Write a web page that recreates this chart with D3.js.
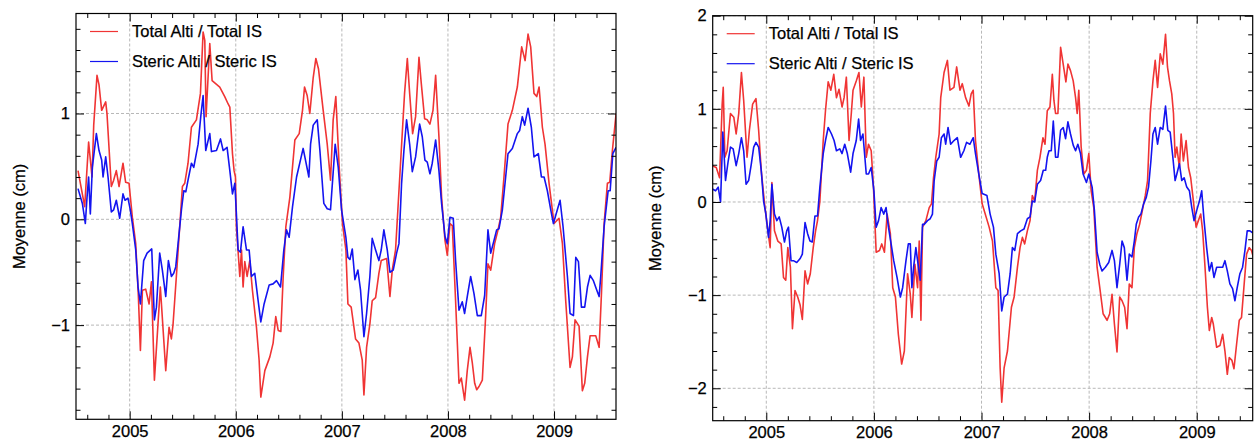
<!DOCTYPE html>
<html>
<head>
<meta charset="utf-8">
<script src="https://cdn.jsdelivr.net/npm/d3@7"></script>
<style>
  body { margin: 0; background: #fff; }
  svg { display: block; font-family: "Liberation Sans", Arial, Helvetica, sans-serif; }
  svg text { stroke: #000; stroke-width: 0.25px; }
</style>
</head>
<body>
<svg id="chart" width="1257" height="442"></svg>
<script>
// mean sea level anomaly (cm), [decimal year, value]
const leftTotal = [
  [2004.513,0.46],[2004.576,0.12],[2004.613,0.73],[2004.645,0.40],[2004.661,0.89],[2004.692,1.36],
  [2004.711,1.27],[2004.736,1.03],[2004.774,1.11],[2004.786,1.00],[2004.827,0.31],[2004.849,0.37],
  [2004.874,0.46],[2004.900,0.31],[2004.937,0.53],[2004.962,0.35],[2004.994,0.34],[2005.025,0.02],
  [2005.057,-0.23],[2005.082,-0.73],[2005.101,-1.24],[2005.120,-0.67],[2005.151,-0.66],[2005.183,-0.80],
  [2005.205,-0.59],[2005.233,-1.52],[2005.289,-0.64],[2005.340,-1.43],[2005.371,-1.02],[2005.393,-1.13],
  [2005.409,-0.99],[2005.440,-0.54],[2005.497,0.31],[2005.519,0.34],[2005.550,0.53],[2005.582,0.87],
  [2005.629,0.94],[2005.667,1.19],[2005.692,1.77],[2005.708,1.69],[2005.720,0.97],[2005.755,1.66],
  [2005.777,1.31],[2005.849,1.25],[2005.896,1.16],[2005.928,1.09],[2005.944,1.06],[2005.969,0.62],
  [2005.984,0.46],[2005.997,0.40],[2006.006,-0.07],[2006.038,-0.54],[2006.054,-0.29],[2006.069,-0.64],
  [2006.085,-0.40],[2006.107,-0.54],[2006.132,-0.39],[2006.157,-0.67],[2006.195,-1.02],[2006.220,-1.33],
  [2006.236,-1.68],[2006.274,-1.43],[2006.321,-1.30],[2006.352,-1.17],[2006.377,-0.92],[2006.400,-1.05],
  [2006.425,-1.06],[2006.447,-0.54],[2006.472,-0.07],[2006.510,0.21],[2006.557,0.75],[2006.598,0.81],
  [2006.629,1.03],[2006.648,1.25],[2006.673,1.17],[2006.698,1.00],[2006.730,1.34],[2006.755,1.52],
  [2006.780,1.42],[2006.824,1.03],[2006.862,0.71],[2006.893,0.37],[2006.918,0.94],[2006.943,1.16],
  [2006.975,0.49],[2007.006,-0.04],[2007.038,-0.29],[2007.057,-0.80],[2007.088,-0.83],[2007.129,-1.13],
  [2007.161,-1.17],[2007.192,-1.33],[2007.208,-1.66],[2007.233,-1.21],[2007.264,-0.99],[2007.286,-0.77],
  [2007.318,-0.74],[2007.349,-0.51],[2007.371,-0.39],[2007.422,-0.37],[2007.453,-0.73],[2007.475,-0.48],
  [2007.506,-0.29],[2007.528,0.09],[2007.560,0.65],[2007.591,1.19],[2007.617,1.52],[2007.639,1.19],
  [2007.667,0.81],[2007.695,0.97],[2007.727,1.53],[2007.749,1.28],[2007.780,0.95],[2007.805,0.94],
  [2007.830,0.90],[2007.859,1.03],[2007.884,1.36],[2007.915,0.78],[2007.940,0.21],[2007.972,-0.20],
  [2007.994,-0.34],[2008.019,-0.04],[2008.041,-0.06],[2008.072,-0.77],[2008.104,-1.55],[2008.126,-1.50],
  [2008.157,-1.71],[2008.182,-1.43],[2008.208,-1.21],[2008.230,-1.36],[2008.252,-1.55],[2008.271,-1.61],
  [2008.293,-1.58],[2008.324,-1.52],[2008.355,-0.92],[2008.377,-0.42],[2008.403,-0.48],[2008.440,-0.23],
  [2008.472,-0.10],[2008.497,0.02],[2008.528,0.40],[2008.566,0.90],[2008.607,1.03],[2008.654,1.25],
  [2008.695,1.63],[2008.727,1.50],[2008.755,1.75],[2008.780,1.63],[2008.811,1.19],[2008.837,1.16],
  [2008.859,1.25],[2008.890,0.87],[2008.915,0.71],[2008.953,0.34],[2009.000,-0.04],[2009.047,0.01],
  [2009.079,-0.23],[2009.110,-0.77],[2009.151,-1.40],[2009.173,-1.30],[2009.198,-0.95],[2009.236,-1.01],
  [2009.267,-1.62],[2009.289,-1.55],[2009.315,-1.30],[2009.340,-1.10],[2009.393,-1.10],[2009.425,-1.21],
  [2009.447,-0.70],[2009.472,-0.04],[2009.503,0.34],[2009.525,0.35],[2009.550,0.65],[2009.585,1.00]
];

const leftSteric = [
  [2004.513,0.29],[2004.554,0.15],[2004.582,-0.04],[2004.598,0.21],[2004.613,0.40],[2004.629,0.05],
  [2004.648,0.49],[2004.686,0.81],[2004.711,0.65],[2004.736,0.56],[2004.749,0.40],[2004.774,0.59],
  [2004.796,0.40],[2004.827,0.07],[2004.849,0.09],[2004.874,0.18],[2004.906,0.01],[2004.937,0.24],
  [2004.956,0.18],[2004.984,0.20],[2005.006,0.09],[2005.025,-0.04],[2005.057,-0.29],[2005.079,-0.64],
  [2005.101,-0.80],[2005.132,-0.39],[2005.164,-0.32],[2005.208,-0.28],[2005.233,-0.95],[2005.252,-0.83],
  [2005.283,-0.32],[2005.308,-0.48],[2005.340,-0.73],[2005.365,-0.39],[2005.393,-0.54],[2005.415,-0.51],
  [2005.434,-0.45],[2005.456,-0.23],[2005.488,0.09],[2005.510,0.27],[2005.529,0.26],[2005.550,0.37],
  [2005.582,0.53],[2005.604,0.49],[2005.645,0.71],[2005.670,0.97],[2005.692,1.17],[2005.717,0.65],
  [2005.755,0.81],[2005.771,0.64],[2005.818,0.65],[2005.856,0.76],[2005.881,0.65],[2005.918,0.68],
  [2005.944,0.46],[2005.969,0.24],[2005.991,0.34],[2006.006,0.05],[2006.022,-0.29],[2006.044,-0.31],
  [2006.069,-0.07],[2006.101,-0.29],[2006.126,-0.29],[2006.148,-0.54],[2006.179,-0.51],[2006.211,-0.77],
  [2006.236,-0.97],[2006.267,-0.80],[2006.315,-0.62],[2006.352,-0.61],[2006.384,-0.58],[2006.422,-0.64],
  [2006.453,-0.29],[2006.478,-0.10],[2006.503,-0.17],[2006.535,0.12],[2006.573,0.40],[2006.635,0.67],
  [2006.689,0.40],[2006.705,0.71],[2006.730,0.89],[2006.768,0.94],[2006.793,0.65],[2006.830,0.15],
  [2006.862,0.10],[2006.893,0.09],[2006.937,0.71],[2006.966,0.49],[2006.997,0.09],[2007.038,-0.17],
  [2007.057,-0.36],[2007.076,-0.38],[2007.098,-0.28],[2007.123,-0.57],[2007.151,-0.48],[2007.176,-0.67],
  [2007.208,-1.11],[2007.233,-0.89],[2007.264,-0.54],[2007.286,-0.18],[2007.318,-0.29],[2007.349,-0.39],
  [2007.371,-0.29],[2007.396,-0.10],[2007.428,-0.29],[2007.453,-0.50],[2007.484,-0.48],[2007.516,-0.32],
  [2007.538,-0.23],[2007.563,0.34],[2007.585,0.65],[2007.610,0.94],[2007.639,0.71],[2007.664,0.45],
  [2007.695,0.59],[2007.733,0.90],[2007.758,0.78],[2007.783,0.56],[2007.805,0.54],[2007.830,0.43],
  [2007.852,0.53],[2007.884,0.75],[2007.915,0.46],[2007.940,0.15],[2007.972,-0.16],[2007.994,-0.23],
  [2008.019,0.02],[2008.050,0.01],[2008.072,-0.39],[2008.104,-0.86],[2008.135,-0.78],[2008.157,-0.89],
  [2008.182,-0.73],[2008.214,-0.54],[2008.245,-0.70],[2008.277,-0.91],[2008.314,-0.91],[2008.346,-0.72],
  [2008.377,-0.10],[2008.403,-0.32],[2008.434,-0.20],[2008.459,-0.10],[2008.481,-0.09],[2008.513,0.09],
  [2008.544,0.40],[2008.566,0.62],[2008.607,0.67],[2008.654,0.81],[2008.676,0.84],[2008.701,0.97],
  [2008.723,0.89],[2008.755,1.05],[2008.786,0.87],[2008.811,0.59],[2008.852,0.62],[2008.881,0.40],
  [2008.906,0.40],[2008.937,0.27],[2008.969,0.09],[2008.994,-0.04],[2009.031,0.09],[2009.057,0.18],
  [2009.085,-0.07],[2009.126,-0.54],[2009.151,-0.89],[2009.183,-0.91],[2009.205,-0.36],[2009.230,-0.40],
  [2009.258,-0.83],[2009.289,-0.83],[2009.315,-0.64],[2009.340,-0.53],[2009.371,-0.58],[2009.403,-0.67],
  [2009.425,-0.73],[2009.440,-0.54],[2009.472,-0.07],[2009.510,0.27],[2009.529,0.27],[2009.554,0.62],
  [2009.585,0.68]
];

const rightTotal = [
  [2004.498,0.39],[2004.535,0.37],[2004.566,0.26],[2004.590,1.05],[2004.600,1.23],[2004.615,0.48],
  [2004.636,0.55],[2004.667,0.95],[2004.698,0.91],[2004.720,0.73],[2004.744,0.95],[2004.769,1.39],
  [2004.790,1.09],[2004.821,0.48],[2004.843,0.77],[2004.873,1.05],[2004.904,1.11],[2004.929,0.77],
  [2004.953,0.34],[2004.984,-0.02],[2005.015,-0.31],[2005.036,-0.49],[2005.052,0.21],[2005.076,-0.31],
  [2005.107,-0.42],[2005.138,-0.45],[2005.160,-0.81],[2005.181,-0.84],[2005.200,-0.49],[2005.224,-0.70],
  [2005.243,-1.36],[2005.267,-0.95],[2005.292,-1.02],[2005.313,-1.10],[2005.335,-1.26],[2005.360,-0.74],
  [2005.384,-0.88],[2005.409,-0.77],[2005.436,-0.49],[2005.458,-0.31],[2005.476,-0.20],[2005.498,0.01],
  [2005.529,0.66],[2005.550,0.98],[2005.575,1.29],[2005.600,1.20],[2005.627,1.37],[2005.652,1.12],
  [2005.676,1.21],[2005.704,1.02],[2005.723,1.12],[2005.744,1.34],[2005.769,0.66],[2005.790,0.95],
  [2005.806,1.20],[2005.836,1.30],[2005.861,1.39],[2005.883,1.02],[2005.907,1.34],[2005.929,0.48],
  [2005.950,0.62],[2005.975,0.55],[2005.996,0.16],[2006.021,-0.54],[2006.052,-0.52],[2006.073,-0.45],
  [2006.098,-0.54],[2006.123,-0.13],[2006.153,-0.34],[2006.175,-0.92],[2006.200,-1.02],[2006.227,-1.42],
  [2006.258,-1.74],[2006.283,-1.60],[2006.313,-0.77],[2006.338,-0.99],[2006.353,-1.24],[2006.381,-0.67],
  [2006.406,-0.92],[2006.421,-0.42],[2006.437,-1.27],[2006.452,-0.27],[2006.483,-0.20],[2006.514,-0.06],
  [2006.535,-0.02],[2006.554,0.26],[2006.575,0.48],[2006.606,0.73],[2006.621,1.12],[2006.652,1.39],
  [2006.683,1.52],[2006.707,1.20],[2006.744,1.23],[2006.769,1.45],[2006.800,1.20],[2006.821,1.27],
  [2006.852,1.12],[2006.883,1.03],[2006.904,1.16],[2006.923,1.20],[2006.944,0.66],[2006.975,0.30],
  [2007.006,-0.02],[2007.071,-0.27],[2007.102,-0.42],[2007.133,-0.92],[2007.154,-0.95],[2007.173,-1.78],
  [2007.188,-2.15],[2007.210,-1.78],[2007.241,-1.60],[2007.278,-1.13],[2007.303,-1.02],[2007.334,-0.70],
  [2007.358,-0.49],[2007.380,-0.38],[2007.401,-0.45],[2007.426,-0.31],[2007.451,-0.20],[2007.472,0.07],
  [2007.494,0.01],[2007.519,0.34],[2007.543,0.48],[2007.571,0.69],[2007.590,0.62],[2007.611,0.98],
  [2007.636,1.02],[2007.658,1.37],[2007.673,1.09],[2007.688,0.95],[2007.710,0.95],[2007.735,1.66],
  [2007.759,1.48],[2007.784,1.29],[2007.803,1.48],[2007.827,1.41],[2007.852,1.30],[2007.874,1.12],
  [2007.889,0.95],[2007.904,1.20],[2007.926,0.59],[2007.951,0.30],[2007.975,0.34],[2007.997,0.52],
  [2008.019,0.12],[2008.043,-0.06],[2008.074,-0.70],[2008.099,-0.92],[2008.130,-1.20],[2008.167,-1.27],
  [2008.191,-1.20],[2008.213,-0.99],[2008.235,-1.31],[2008.259,-1.61],[2008.284,-1.02],[2008.306,-1.06],
  [2008.330,-1.13],[2008.352,-1.36],[2008.373,-0.88],[2008.398,-0.92],[2008.420,-0.49],[2008.444,-0.34],
  [2008.469,-0.24],[2008.500,-0.06],[2008.522,0.07],[2008.543,0.23],[2008.568,0.95],[2008.593,1.30],
  [2008.614,1.52],[2008.636,1.23],[2008.661,1.59],[2008.685,1.48],[2008.710,1.80],[2008.728,1.45],
  [2008.747,1.30],[2008.768,1.16],[2008.784,0.95],[2008.799,0.48],[2008.815,0.59],[2008.839,0.37],
  [2008.855,0.73],[2008.876,0.44],[2008.901,0.66],[2008.923,0.37],[2008.944,0.26],[2008.969,0.01],
  [2008.994,-0.27],[2009.015,-0.20],[2009.037,-0.13],[2009.055,-0.31],[2009.077,-0.70],[2009.099,-1.13],
  [2009.117,-1.38],[2009.139,-1.24],[2009.154,-1.31],[2009.185,-1.56],[2009.216,-1.54],[2009.241,-1.42],
  [2009.262,-1.60],[2009.284,-1.85],[2009.302,-1.67],[2009.327,-1.70],[2009.346,-1.79],[2009.370,-1.53],
  [2009.395,-1.27],[2009.416,-1.24],[2009.438,-0.92],[2009.463,-0.56],[2009.487,-0.49],[2009.509,-0.52],
  [2009.525,-0.59]
];

const rightSteric = [
  [2004.498,0.14],[2004.529,0.12],[2004.553,0.16],[2004.575,0.00],[2004.596,0.75],[2004.621,0.23],
  [2004.646,0.44],[2004.667,0.59],[2004.692,0.57],[2004.720,0.39],[2004.744,0.52],[2004.769,0.69],
  [2004.790,0.55],[2004.812,0.19],[2004.836,0.23],[2004.861,0.41],[2004.883,0.59],[2004.904,0.64],
  [2004.929,0.59],[2004.953,0.34],[2004.975,0.01],[2004.996,-0.13],[2005.021,-0.38],[2005.036,-0.20],
  [2005.052,0.19],[2005.076,-0.13],[2005.098,-0.20],[2005.120,-0.16],[2005.144,-0.27],[2005.169,-0.43],
  [2005.190,-0.31],[2005.206,-0.27],[2005.230,-0.63],[2005.252,-0.63],[2005.283,-0.65],[2005.313,-0.61],
  [2005.335,-0.56],[2005.360,-0.22],[2005.384,-0.34],[2005.406,-0.42],[2005.427,-0.43],[2005.452,-0.15],
  [2005.476,-0.15],[2005.498,0.16],[2005.529,0.52],[2005.550,0.66],[2005.575,0.80],[2005.606,0.73],
  [2005.630,0.66],[2005.652,0.55],[2005.683,0.57],[2005.704,0.52],[2005.729,0.62],[2005.753,0.52],
  [2005.784,0.32],[2005.806,0.52],[2005.836,0.66],[2005.858,0.89],[2005.876,0.66],[2005.898,0.73],
  [2005.929,0.30],[2005.950,0.30],[2005.975,0.37],[2006.000,0.12],[2006.021,-0.27],[2006.043,-0.20],
  [2006.067,-0.06],[2006.092,-0.13],[2006.113,-0.06],[2006.135,-0.27],[2006.160,-0.45],[2006.184,-0.63],
  [2006.215,-0.81],[2006.246,-1.02],[2006.267,-0.92],[2006.298,-0.63],[2006.320,-0.45],[2006.338,-0.45],
  [2006.353,-0.92],[2006.369,-0.70],[2006.390,-0.49],[2006.406,-0.63],[2006.430,-0.84],[2006.452,-0.24],
  [2006.467,-0.24],[2006.498,-0.20],[2006.523,-0.18],[2006.544,-0.13],[2006.560,0.23],[2006.584,0.44],
  [2006.606,0.48],[2006.627,0.69],[2006.652,0.73],[2006.667,0.62],[2006.689,0.80],[2006.713,0.62],
  [2006.744,0.66],[2006.775,0.69],[2006.806,0.48],[2006.836,0.55],[2006.861,0.64],[2006.892,0.62],
  [2006.923,0.69],[2006.944,0.52],[2006.975,0.30],[2007.006,0.09],[2007.050,0.07],[2007.080,-0.13],
  [2007.111,-0.27],[2007.133,-0.56],[2007.164,-0.77],[2007.188,-1.17],[2007.210,-1.02],[2007.241,-0.99],
  [2007.266,-0.77],[2007.287,-0.49],[2007.309,-0.52],[2007.334,-0.34],[2007.364,-0.31],[2007.395,-0.29],
  [2007.426,-0.18],[2007.451,-0.16],[2007.472,0.01],[2007.494,0.00],[2007.519,0.19],[2007.549,0.23],
  [2007.574,0.34],[2007.596,0.34],[2007.611,0.48],[2007.627,0.55],[2007.648,0.55],[2007.667,0.87],
  [2007.688,0.48],[2007.710,0.48],[2007.735,0.77],[2007.759,0.80],[2007.781,0.68],[2007.803,0.86],
  [2007.827,0.73],[2007.852,0.61],[2007.874,0.55],[2007.895,0.62],[2007.920,0.52],[2007.944,0.30],
  [2007.975,0.21],[2007.997,0.30],[2008.028,0.16],[2008.049,-0.09],[2008.074,-0.54],[2008.099,-0.67],
  [2008.120,-0.74],[2008.151,-0.70],[2008.182,-0.65],[2008.213,-0.52],[2008.235,-0.63],[2008.259,-0.92],
  [2008.284,-0.67],[2008.306,-0.42],[2008.327,-0.49],[2008.352,-0.84],[2008.373,-0.56],[2008.398,-0.59],
  [2008.420,-0.42],[2008.438,-0.24],[2008.460,-0.16],[2008.481,-0.13],[2008.506,-0.02],[2008.531,0.05],
  [2008.552,0.16],[2008.574,0.44],[2008.593,0.73],[2008.614,0.80],[2008.636,0.62],[2008.661,0.80],
  [2008.685,0.78],[2008.710,1.03],[2008.731,0.77],[2008.753,0.75],[2008.778,0.48],[2008.799,0.23],
  [2008.815,0.30],[2008.839,0.41],[2008.861,0.23],[2008.883,0.26],[2008.907,0.16],[2008.932,0.12],
  [2008.954,-0.06],[2008.975,-0.20],[2009.000,-0.09],[2009.025,0.01],[2009.046,0.12],[2009.068,-0.20],
  [2009.092,-0.49],[2009.117,-0.74],[2009.139,-0.65],[2009.160,-0.81],[2009.185,-0.70],[2009.216,-0.70],
  [2009.241,-0.70],[2009.262,-0.63],[2009.284,-0.74],[2009.308,-0.88],[2009.333,-0.93],[2009.355,-1.06],
  [2009.376,-0.92],[2009.401,-0.77],[2009.426,-0.70],[2009.448,-0.52],[2009.469,-0.31],[2009.494,-0.31],
  [2009.519,-0.33]
];

const yearTicks = [2005, 2006, 2007, 2008, 2009];
const leftYTicks = [-1, 0, 1];
const rightYTicks = [-2, -1, 0, 1, 2];
const legendLabels = ["Total Alti / Total IS", "Steric Alti / Steric IS"];
const yLabel = "Moyenne (cm)";

const totalColor = "#f03434";
const stericColor = "#1414f0";
const gridColor = "#b8b8b8";
const fontSize = "16.5px";

const panels = [
  { id: "left", left: 76, right: 616, top: 13.5, bottom: 419.3,
    xDomain: [2004.494, 2009.584], yDomain: [-1.89, 1.945], yTicks: leftYTicks,
    labelX: 19, total: leftTotal, steric: leftSteric },
  { id: "right", left: 712.7, right: 1252.7, top: 15.7, bottom: 420.7,
    xDomain: [2004.502, 2009.52], yDomain: [-2.348, 2.0], yTicks: rightYTicks,
    labelX: 655, total: rightTotal, steric: rightSteric },
];

const svg = d3.select("#chart");

function minorTicks(domain) {
    return d3.range(Math.ceil(domain[0] * 5), Math.floor(domain[1] * 5) + 1).map((k) => k / 5);
}

function drawPanel(p) {
    const w = p.right - p.left;
    const h = p.bottom - p.top;
    const x = d3.scaleLinear().domain(p.xDomain).range([0, w]);
    const y = d3.scaleLinear().domain(p.yDomain).range([h, 0]);

    const g = svg.append("g").attr("transform", `translate(${p.left},${p.top})`);

    g.append("clipPath").attr("id", `clip-${p.id}`)
        .append("rect").attr("width", w).attr("height", h);

    // dashed grid at the labelled ticks
    g.append("g").selectAll("line").data(yearTicks).join("line")
        .attr("x1", (d) => x(d)).attr("x2", (d) => x(d))
        .attr("y1", 0).attr("y2", h)
        .attr("stroke", gridColor).attr("stroke-dasharray", "3,2");
    g.append("g").selectAll("line").data(p.yTicks).join("line")
        .attr("y1", (d) => y(d)).attr("y2", (d) => y(d))
        .attr("x1", 0).attr("x2", w)
        .attr("stroke", gridColor).attr("stroke-dasharray", "3,2");

    // data lines
    const line = d3.line().x((d) => x(d[0])).y((d) => y(d[1]));
    const lines = g.append("g").attr("clip-path", `url(#clip-${p.id})`);
    lines.append("path").datum(p.total)
        .attr("fill", "none").attr("stroke", totalColor).attr("stroke-width", 1.6)
        .attr("stroke-linejoin", "round").attr("d", line);
    lines.append("path").datum(p.steric)
        .attr("fill", "none").attr("stroke", stericColor).attr("stroke-width", 1.6)
        .attr("stroke-linejoin", "round").attr("d", line);

    // inward ticks on all four sides
    const xMinor = minorTicks(p.xDomain).filter((t) => !yearTicks.includes(t));
    const yMinor = minorTicks(p.yDomain).filter((t) => !p.yTicks.includes(Math.round(t * 100) / 100));
    const axes = [
        [d3.axisBottom(x), `translate(0,${h})`, xMinor, yearTicks, true],
        [d3.axisTop(x), null, xMinor, yearTicks, false],
        [d3.axisLeft(y), null, yMinor, p.yTicks, true],
        [d3.axisRight(y), `translate(${w},0)`, yMinor, p.yTicks, false],
    ];
    axes.forEach(([axis, tr, minor, major, labelled]) => {
        const am = g.append("g").attr("transform", tr)
            .call(axis.tickValues(minor).tickSize(-4.5).tickFormat(""));
        am.select(".domain").remove();
        const aM = g.append("g").attr("transform", tr)
            .call(axis.tickValues(major).tickSize(-8)
                .tickPadding(labelled ? 6 : 0)
                .tickFormat(labelled ? d3.format("d") : ""));
        aM.select(".domain").remove();
        aM.selectAll("text").attr("font-size", fontSize).attr("font-family", null).attr("fill", "#000");
    });
    g.selectAll(".tick line").attr("stroke", "#000");

    // frame
    g.append("rect").attr("width", w).attr("height", h)
        .attr("fill", "none").attr("stroke", "#000").attr("stroke-width", 1.2);

    // legend
    const leg = g.append("g").attr("transform", "translate(14,18)");
    [totalColor, stericColor].forEach((c, i) => {
        const row = leg.append("g").attr("transform", `translate(0,${i * 30})`);
        row.append("line").attr("x1", 0).attr("x2", 28)
            .attr("stroke", c).attr("stroke-width", 1.2);
        row.append("text").attr("x", 42).attr("dy", "0.35em")
            .attr("font-size", fontSize).text(legendLabels[i]);
    });

    // y label
    svg.append("text")
        .attr("transform", `translate(${p.labelX},${(p.top + p.bottom) / 2}) rotate(-90)`)
        .attr("text-anchor", "middle").attr("dy", "0.35em")
        .attr("font-size", fontSize).text(yLabel);
}

panels.forEach(drawPanel);
</script>
</body>
</html>
